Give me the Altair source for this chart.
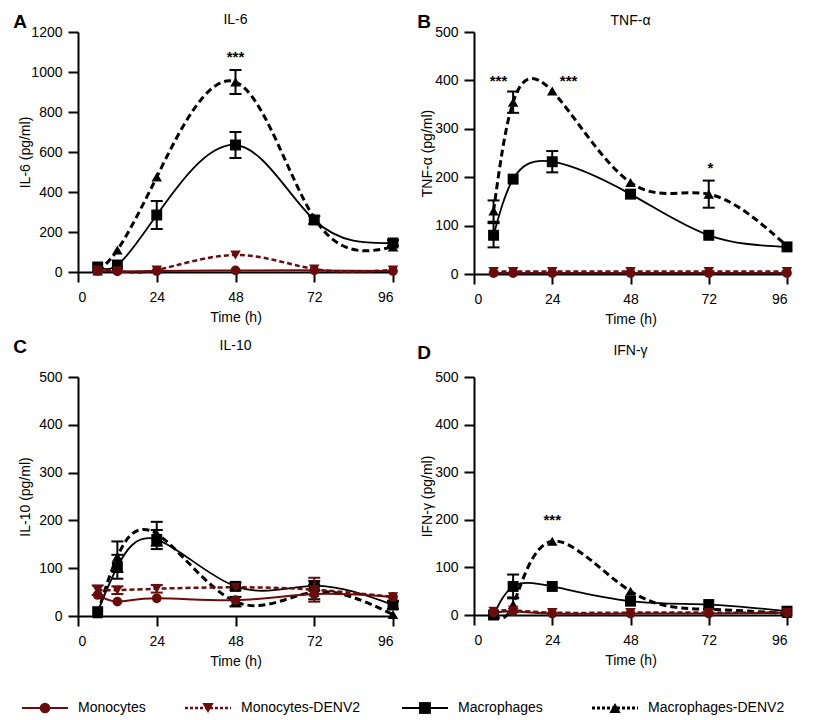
import altair as alt
import pandas as pd

TIME = [6, 12, 24, 48, 72, 96]
SERIES = ["Monocytes", "Monocytes-DENV2", "Macrophages", "Macrophages-DENV2"]
DRAW_ORDER = ["Macrophages-DENV2", "Macrophages", "Monocytes-DENV2", "Monocytes"]

# ---- IL-6 ----
IL6_MONO = [5, 3, 5, 8, 8, 5]
IL6_MONO_DENV = [10, 5, 10, 85, 15, 10]
IL6_MAC = [25, 35, 285, 635, 260, 145]
IL6_MAC_DENV = [5, 110, 475, 950, 270, 125]
IL6_MONO_ERR = [0, 0, 0, 0, 0, 0]
IL6_MONO_DENV_ERR = [0, 0, 0, 0, 0, 0]
IL6_MAC_ERR = [0, 0, 70, 65, 20, 15]
IL6_MAC_DENV_ERR = [0, 0, 0, 60, 0, 0]

# ---- TNF-alpha ----
TNF_MONO = [2, 2, 2, 2, 2, 2]
TNF_MONO_DENV = [5, 5, 5, 5, 5, 5]
TNF_MAC = [80, 196, 232, 165, 80, 56]
TNF_MAC_DENV = [130, 355, 378, 189, 165, 58]
TNF_MONO_ERR = [0, 0, 0, 0, 0, 0]
TNF_MONO_DENV_ERR = [0, 0, 0, 0, 0, 0]
TNF_MAC_ERR = [25, 0, 22, 0, 0, 0]
TNF_MAC_DENV_ERR = [22, 22, 0, 0, 28, 0]

# ---- IL-10 ----
IL10_MONO = [44, 30, 37, 33, 46, 40]
IL10_MONO_DENV = [54, 54, 57, 60, 55, 40]
IL10_MAC = [9, 103, 160, 62, 63, 23]
IL10_MAC_DENV = [5, 124, 172, 30, 50, 3]
IL10_MONO_ERR = [0, 0, 0, 0, 0, 0]
IL10_MONO_DENV_ERR = [10, 8, 8, 0, 25, 0]
IL10_MAC_ERR = [0, 25, 20, 8, 10, 8]
IL10_MAC_DENV_ERR = [0, 32, 25, 10, 15, 0]

# ---- IFN-gamma ----
IFN_MONO = [5, 8, 3, 3, 3, 5]
IFN_MONO_DENV = [8, 10, 5, 5, 5, 5]
IFN_MAC = [0, 60, 60, 29, 22, 8]
IFN_MAC_DENV = [0, 22, 155, 50, 12, 3]
IFN_MONO_ERR = [0, 0, 0, 0, 0, 0]
IFN_MONO_DENV_ERR = [0, 0, 0, 0, 0, 0]
IFN_MAC_ERR = [0, 25, 0, 0, 0, 0]
IFN_MAC_DENV_ERR = [0, 15, 0, 0, 0, 0]

# significance annotations (time, value, label)
IL6_STAR_T, IL6_STAR_V, IL6_STAR_L = [48], [1075], ["***"]
TNF_STAR_T, TNF_STAR_V, TNF_STAR_L = [7.5, 29, 72.5], [398, 398, 218], ["***", "***", "*"]
IL10_STAR_T, IL10_STAR_V, IL10_STAR_L = [], [], []
IFN_STAR_T, IFN_STAR_V, IFN_STAR_L = [24], [200], ["***"]

RED = "#6b0c0c"
FONT = "Liberation Sans"
STYLE = {
    "Monocytes": dict(color=RED, dash=None, width=2.0, shape="circle", size=95, leg_dx=0),
    "Monocytes-DENV2": dict(color=RED, dash=[5, 3], width=2.5, shape="triangle-down",
                            size=110, leg_dx=-27),
    "Macrophages": dict(color="black", dash=None, width=1.8, shape="square", size=120, leg_dx=0),
    "Macrophages-DENV2": dict(color="black", dash=[7, 4], width=3.0, shape="triangle-up",
                              size=110, leg_dx=0),
}


def make_panel(letter, title, vals, errs, stars, ymax, ystep, ytitle, width, height,
               title_y, letter_xy, ytitle_x):
    xenc = dict(scale=alt.Scale(domain=[0, 96], nice=False, zero=False),
                axis=alt.Axis(values=[0, 24, 48, 72, 96], title="Time (h)", format="d"))
    yaxis = alt.Axis(values=list(range(0, ymax + 1, ystep)), title=ytitle,
                     titleX=ytitle_x, format="d")
    yscale = alt.Scale(domain=[0, ymax], nice=False)

    layers = []
    for s in DRAW_ORDER:
        st = STYLE[s]
        df = pd.DataFrame({"t": TIME, "v": vals[s], "e": errs[s]})
        df["lo"] = df["v"] - df["e"]
        df["hi"] = df["v"] + df["e"]
        line_kw = dict(interpolate="natural", color=st["color"], strokeWidth=st["width"])
        if st["dash"]:
            line_kw["strokeDash"] = st["dash"]
        base = alt.Chart(df)
        layers.append(base.mark_line(**line_kw).encode(
            x=alt.X("t:Q", **xenc), y=alt.Y("v:Q", scale=yscale, axis=yaxis)))
        edf = df[df["e"] > 0]
        if len(edf):
            eb = alt.Chart(edf)
            layers.append(eb.mark_rule(color=st["color"], strokeWidth=2).encode(
                x=alt.X("t:Q", **xenc), y=alt.Y("lo:Q", scale=yscale, axis=yaxis), y2="hi:Q"))
            for fld in ["lo", "hi"]:
                layers.append(eb.mark_tick(color=st["color"], orient="horizontal",
                                           thickness=2, size=12, opacity=1).encode(
                    x=alt.X("t:Q", **xenc), y=alt.Y(f"{fld}:Q", scale=yscale, axis=yaxis)))
        layers.append(base.mark_point(filled=True, shape=st["shape"], size=st["size"],
                                      color=st["color"], opacity=1).encode(
            x=alt.X("t:Q", **xenc), y=alt.Y("v:Q", scale=yscale, axis=yaxis)))

    st_t, st_v, st_l = stars
    if st_t:
        sdf = pd.DataFrame({"t": st_t, "v": st_v, "lab": st_l})
        layers.append(alt.Chart(sdf).mark_text(fontSize=15, font=FONT, fontWeight="bold",
                                               baseline="middle", color="black").encode(
            x=alt.X("t:Q", **xenc), y=alt.Y("v:Q", scale=yscale, axis=yaxis), text="lab:N"))

    one = alt.Data(values=[{}])
    layers.append(alt.Chart(one).mark_text(
        text=letter, fontSize=19, fontWeight="bold", font=FONT, color="black",
        baseline="middle", align="center").encode(
        x=alt.value(letter_xy[0]), y=alt.value(letter_xy[1])))
    layers.append(alt.Chart(one).mark_text(
        text=title, fontSize=14, font=FONT, color="black",
        baseline="middle", align="center").encode(
        x=alt.value(width / 2), y=alt.value(title_y)))

    return alt.layer(*layers).properties(width=width, height=height)


def pack(mono, mono_d, mac, mac_d):
    return {"Monocytes": mono, "Monocytes-DENV2": mono_d,
            "Macrophages": mac, "Macrophages-DENV2": mac_d}


pA = make_panel("A", "IL-6",
                pack(IL6_MONO, IL6_MONO_DENV, IL6_MAC, IL6_MAC_DENV),
                pack(IL6_MONO_ERR, IL6_MONO_DENV_ERR, IL6_MAC_ERR, IL6_MAC_DENV_ERR),
                (IL6_STAR_T, IL6_STAR_V, IL6_STAR_L), 1200, 200, "IL-6 (pg/ml)",
                315, 240, -12, (-58, -10), -46)
pB = make_panel("B", "TNF-α",
                pack(TNF_MONO, TNF_MONO_DENV, TNF_MAC, TNF_MAC_DENV),
                pack(TNF_MONO_ERR, TNF_MONO_DENV_ERR, TNF_MAC_ERR, TNF_MAC_DENV_ERR),
                (TNF_STAR_T, TNF_STAR_V, TNF_STAR_L), 500, 100, "TNF-α (pg/ml)",
                313, 242, -11, (-50, -10), -40)
pC = make_panel("C", "IL-10",
                pack(IL10_MONO, IL10_MONO_DENV, IL10_MAC, IL10_MAC_DENV),
                pack(IL10_MONO_ERR, IL10_MONO_DENV_ERR, IL10_MAC_ERR, IL10_MAC_DENV_ERR),
                (IL10_STAR_T, IL10_STAR_V, IL10_STAR_L), 500, 100, "IL-10 (pg/ml)",
                315, 239, -31, (-58, -30), -46)
pD = make_panel("D", "IFN-γ",
                pack(IFN_MONO, IFN_MONO_DENV, IFN_MAC, IFN_MAC_DENV),
                pack(IFN_MONO_ERR, IFN_MONO_DENV_ERR, IFN_MAC_ERR, IFN_MAC_DENV_ERR),
                (IFN_STAR_T, IFN_STAR_V, IFN_STAR_L), 500, 100, "IFN-γ (pg/ml)",
                313, 238, -26, (-50, -24), -40)

# ---- legend ----
leg_df = pd.DataFrame({"series": SERIES})
lx = alt.X("series:N", sort=SERIES, axis=None,
           scale=alt.Scale(domain=SERIES, type="point", padding=0))
LEG_SHIFT = -33
LEG_Y = 33
leg_layers = []
for s in SERIES:
    st = STYLE[s]
    sh = LEG_SHIFT + st["leg_dx"]
    d = alt.Chart(leg_df).transform_filter(alt.datum.series == s)
    rk = dict(color=st["color"], strokeWidth=st["width"], xOffset=sh - 23, x2Offset=sh + 23)
    if st["dash"]:
        rk["strokeDash"] = [3, 2]
    leg_layers.append(d.mark_rule(**rk).encode(x=lx, x2="series:N", y=alt.value(LEG_Y)))
    leg_layers.append(d.mark_point(filled=True, shape=st["shape"], size=st["size"] + 20,
                                   color=st["color"], opacity=1,
                                   xOffset=sh).encode(x=lx, y=alt.value(LEG_Y)))
    leg_layers.append(d.mark_text(align="left", dx=sh + 33, baseline="middle",
                                  fontSize=14, font=FONT, color="black").encode(
        x=lx, y=alt.value(LEG_Y), text="series:N"))
legend = alt.layer(*leg_layers).properties(width=570, height=38)

top = alt.hconcat(pA, pB, spacing=18).resolve_scale(x="independent", y="independent")
bottom = alt.hconcat(pC, pD, spacing=18).resolve_scale(x="independent", y="independent")
panels = alt.vconcat(top, bottom, spacing=12).resolve_scale(x="independent", y="independent")
chart = alt.vconcat(panels, legend, spacing=7).resolve_scale(
    x="independent", y="independent"
).configure_view(stroke=None).configure_axis(
    domainColor="black", domainWidth=2, tickColor="black", tickWidth=2, tickSize=10,
    labelFont=FONT, labelFontSize=14, labelColor="black", labelPadding=6,
    titleFont=FONT, titleFontSize=14, titleFontWeight="normal", titleColor="black",
    grid=False
).configure_axisX(labelPadding=8, titlePadding=6)

chart.save("out.html", embed_options={"renderer": "svg", "actions": False})
